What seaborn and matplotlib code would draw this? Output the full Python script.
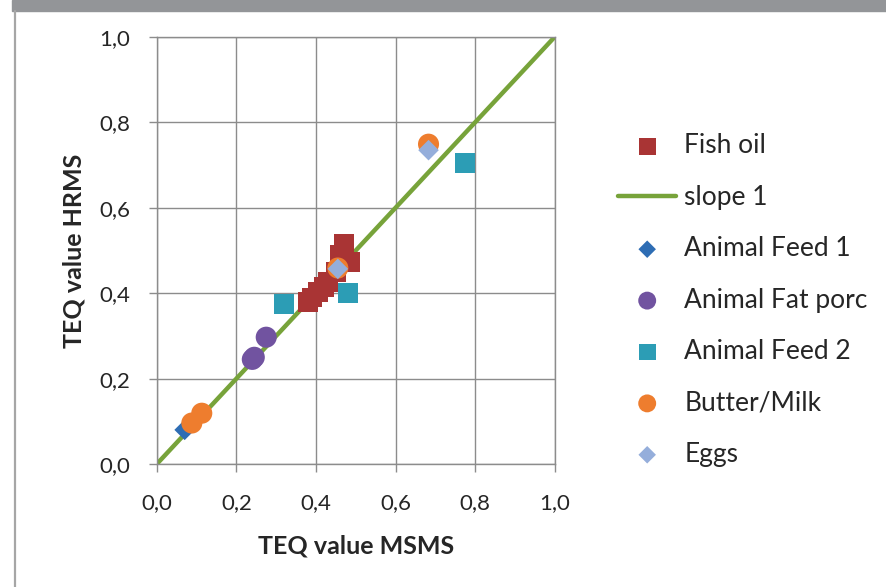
import numpy as np
import pandas as pd
import seaborn as sns
import matplotlib.pyplot as plt
from matplotlib.lines import Line2D
from matplotlib.patches import Rectangle

# data (TEQ value MSMS, TEQ value HRMS)
fish_oil_x = [0.38, 0.39, 0.405, 0.42, 0.43, 0.45, 0.465, 0.47, 0.485, 0.46]
fish_oil_y = [0.38, 0.39, 0.403, 0.415, 0.426, 0.45, 0.473, 0.515, 0.473, 0.49]
slope_x = [0.0, 1.0]
slope_y = [0.0, 1.0]
feed1_x = [0.07]
feed1_y = [0.08]
fat_x = [0.24, 0.245, 0.275]
fat_y = [0.245, 0.25, 0.297]
feed2_x = [0.32, 0.48, 0.775]
feed2_y = [0.375, 0.40, 0.705]
butter_x = [0.088, 0.113, 0.455, 0.683]
butter_y = [0.096, 0.119, 0.459, 0.749]
eggs_x = [0.455, 0.683]
eggs_y = [0.457, 0.735]
ticks = [0.0, 0.2, 0.4, 0.6, 0.8, 1.0]
tick_labels = ['0,0', '0,2', '0,4', '0,6', '0,8', '1,0']

sns.set_style('white')
plt.rcParams['font.family'] = ['Lato', 'DejaVu Sans']

fig = plt.figure(figsize=(8.86, 5.87), dpi=100)
ax = fig.add_axes([0.177, 0.2095, 0.449, 0.7275])

# frame of the original screenshot
fig.patches.append(Rectangle((12 / 886, 1 - 11 / 587), 1, 11 / 587, transform=fig.transFigure,
                             color='#939598', zorder=0))
fig.lines.append(Line2D([14.5 / 886, 14.5 / 886], [0, 1 - 11 / 587], transform=fig.transFigure,
                        color='#A6A6A6', lw=1.6))

sns.lineplot(x=slope_x, y=slope_y, color='#77A33A', lw=3.2, ax=ax, zorder=1, label='slope 1')
sns.scatterplot(x=fish_oil_x, y=fish_oil_y, marker='s', s=200, color='#A93434', edgecolor='none',
                ax=ax, zorder=3, label='Fish oil')
sns.scatterplot(x=feed1_x, y=feed1_y, marker='D', s=110, color='#2E6DB4', edgecolor='none',
                ax=ax, zorder=3, label='Animal Feed 1')
sns.scatterplot(x=fat_x, y=fat_y, marker='o', s=230, color='#7153A0', edgecolor='none',
                ax=ax, zorder=3, label='Animal Fat porc')
sns.scatterplot(x=feed2_x, y=feed2_y, marker='s', s=200, color='#2C9DB5', edgecolor='none',
                ax=ax, zorder=3, label='Animal Feed 2')
sns.scatterplot(x=butter_x, y=butter_y, marker='o', s=230, color='#EE7D2E', edgecolor='none',
                ax=ax, zorder=3, label='Butter/Milk')
sns.scatterplot(x=eggs_x, y=eggs_y, marker='D', s=110, color='#95AEDB', edgecolor='none',
                ax=ax, zorder=3, label='Eggs')

ax.set_xlim(0, 1)
ax.set_ylim(0, 1)
ax.set_xticks(ticks)
ax.set_yticks(ticks)
ax.set_xticklabels(tick_labels)
ax.set_yticklabels(tick_labels)
ax.tick_params(labelsize=16, colors='#262626', length=6, color='#8C8C8C', width=1,
               direction='out', left=True, bottom=True, pad=13)
ax.tick_params(axis='x', pad=15)
ax.grid(True, color='#8C8C8C', lw=1)
for side, sp in ax.spines.items():
    sp.set_color('#8C8C8C')
    sp.set_linewidth(1)
ax.set_xlabel('TEQ value MSMS', fontsize=18, fontweight='bold', color='#262626', labelpad=15)
ax.set_ylabel('TEQ value HRMS', fontsize=18, fontweight='bold', color='#262626', labelpad=10)

handles, labels = ax.get_legend_handles_labels()
order = ['Fish oil', 'slope 1', 'Animal Feed 1', 'Animal Fat porc', 'Animal Feed 2', 'Butter/Milk', 'Eggs']
hmap = dict(zip(labels, handles))
leg = ax.legend([hmap[k] for k in order], order, loc='center left', bbox_to_anchor=(1.10, 0.384),
                frameon=False, fontsize=19, labelspacing=1.0, handlelength=2.2,
                handletextpad=0.3, markerscale=0.85, labelcolor='#262626')

fig.savefig('out.png', dpi=100, facecolor='white')
